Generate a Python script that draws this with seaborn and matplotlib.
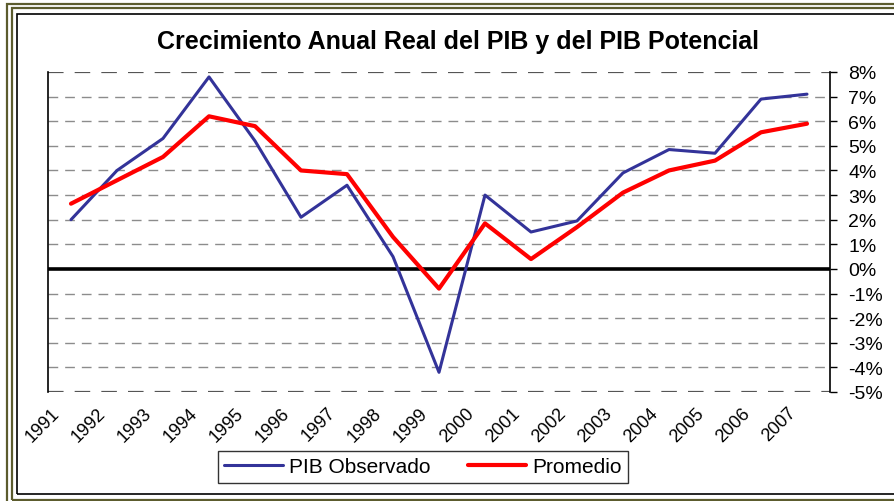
import matplotlib
matplotlib.use("Agg")
import matplotlib.pyplot as plt
import matplotlib.transforms as mtransforms
from matplotlib.patches import Rectangle
from matplotlib.ticker import FuncFormatter
import pandas as pd
import seaborn as sns

# data (percent)
years = [str(y) for y in range(1991, 2008)]
pib_observado = [2.0, 4.0, 5.3, 7.8, 5.2, 2.1, 3.4, 0.5, -4.2,
                 3.0, 1.5, 1.95, 3.9, 4.85, 4.7, 6.9, 7.1]
promedio = [2.65, 3.6, 4.55, 6.2, 5.8, 4.0, 3.85, 1.3, -0.8,
            1.85, 0.4, 1.7, 3.1, 4.0, 4.4, 5.55, 5.9]
y_ticks = list(range(-5, 9))

sns.set_style("white")
plt.rcParams["font.family"] = ["Liberation Sans", "DejaVu Sans"]
plt.rcParams["text.color"] = "black"
plt.rcParams["xtick.color"] = "black"
plt.rcParams["ytick.color"] = "black"

df = pd.DataFrame({"year": years, "obs": pib_observado, "prom": promedio})

fig = plt.figure(figsize=(8.94, 5.02), dpi=100)
fig.patch.set_facecolor("white")
W, H = 894, 502

# outer frame (olive double line + inner black box)
def px_rect(x0, y0, x1, y1, color, lw):
    fig.patches.append(Rectangle((x0 / W, 1 - y1 / H), (x1 - x0) / W, (y1 - y0) / H,
                                 transform=fig.transFigure, fill=False,
                                 edgecolor=color, linewidth=lw, clip_on=False))

px_rect(7, 5, 910, 520, "#5c5c2e", 1.6)
px_rect(12, 9, 905, 501, "#5c5c2e", 1.6)
px_rect(17, 15, 900, 495, "black", 1.2)

ax = fig.add_axes([48 / W, 1 - 393 / H, (830 - 48) / W, (393 - 73) / H])
ax.set_facecolor("white")

# gridlines
for t in y_ticks:
    if t == 0:
        continue
    edge = t in (8, -5)
    ax.axhline(t, color="#555555" if edge else "#8c8c8c",
               linewidth=1.6 if edge else 1.0, dashes=(7, 5), zorder=1)
ax.axhline(0, color="black", linewidth=2.6, zorder=2)

sns.lineplot(data=df, x="year", y="obs", color="#333399", linewidth=2.2,
             sort=False, ax=ax, label="PIB Observado", zorder=3)
sns.lineplot(data=df, x="year", y="prom", color="#ff0000", linewidth=3.0,
             sort=False, ax=ax, label="Promedio", zorder=4)

ax.set_xlim(-0.5, len(years) - 0.5)
ax.set_ylim(-5, 8)
ax.set_xlabel("")
ax.set_ylabel("")

ax.yaxis.tick_right()
ax.set_yticks(y_ticks)
ax.yaxis.set_major_formatter(FuncFormatter(lambda v, p: f"{int(v)}%"))
ax.tick_params(axis="y", which="both", right=True, left=False, direction="out",
               length=5, width=1, pad=8, labelsize=14, colors="black")
ax.tick_params(axis="x", bottom=False, labelsize=13, pad=0, colors="black")

for s in ["top", "bottom"]:
    ax.spines[s].set_visible(False)
for s in ["left", "right"]:
    ax.spines[s].set_color("black")
    ax.spines[s].set_linewidth(1.2)

offset = mtransforms.ScaledTranslation(-14 / 100, -13 / 100, fig.dpi_scale_trans)
for lab in ax.get_xticklabels():
    lab.set_rotation(45)
    lab.set_ha("right")
    lab.set_va("center")
    lab.set_rotation_mode("anchor")
    lab.set_transform(lab.get_transform() + offset)

ax.legend_.remove()
handles, labels = ax.get_legend_handles_labels()
leg = fig.legend(handles, labels, loc="center", bbox_to_anchor=(423 / W, 1 - 468 / H),
                 ncol=2, frameon=True, fancybox=False, fontsize=15,
                 handlelength=2.8, columnspacing=1.8, handletextpad=0.3,
                 borderpad=0.3, edgecolor="black")
leg.get_frame().set_linewidth(1.0)

fig.text(458 / W, 1 - 42 / H, "Crecimiento Anual Real del PIB y del PIB Potencial",
         ha="center", va="center", fontsize=18, fontweight="bold", color="black")

fig.savefig("out.png", dpi=100)
